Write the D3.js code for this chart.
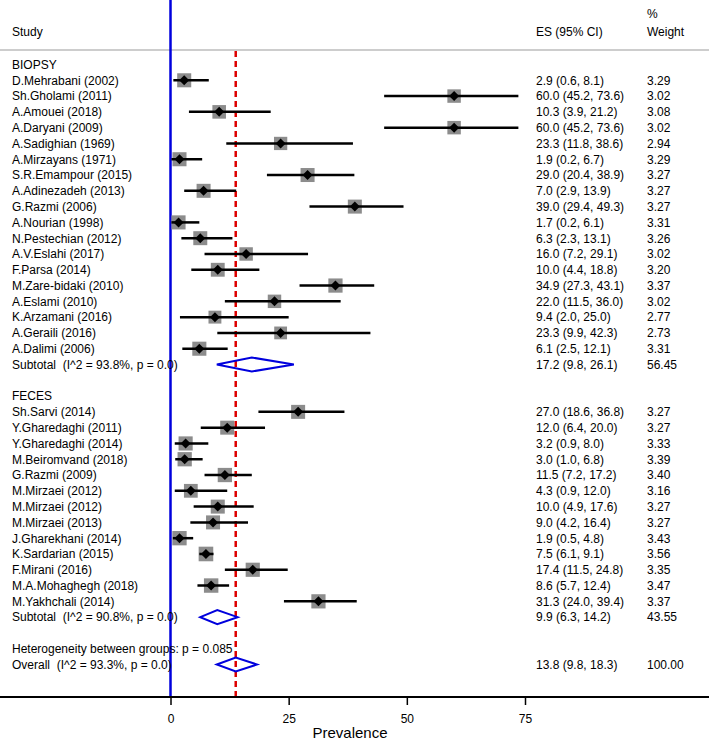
<!DOCTYPE html>
<html><head><meta charset="utf-8">
<script src="https://cdn.jsdelivr.net/npm/d3@7/dist/d3.min.js"></script>
<style>body{margin:0;background:#fff}svg{display:block;font-family:"Liberation Sans",Arial,sans-serif}text{white-space:pre}</style>
</head><body><svg id="c" width="709" height="741"></svg>
<script>
// ---- data ----
const biopsyStudies = ["D.Mehrabani (2002)","Sh.Gholami (2011)","A.Amouei (2018)","A.Daryani (2009)","A.Sadighian (1969)","A.Mirzayans (1971)","S.R.Emampour (2015)","A.Adinezadeh (2013)","G.Razmi (2006)","A.Nourian (1998)","N.Pestechian (2012)","A.V.Eslahi (2017)","F.Parsa (2014)","M.Zare-bidaki (2010)","A.Eslami (2010)","K.Arzamani (2016)","A.Geraili (2016)","A.Dalimi (2006)"];
const biopsyES =   [2.9,60.0,10.3,60.0,23.3,1.9,29.0,7.0,39.0,1.7,6.3,16.0,10.0,34.9,22.0,9.4,23.3,6.1];
const biopsyLow =  [0.6,45.2,3.9,45.2,11.8,0.2,20.4,2.9,29.4,0.2,2.3,7.2,4.4,27.3,11.5,2.0,9.9,2.5];
const biopsyHigh = [8.1,73.6,21.2,73.6,38.6,6.7,38.9,13.9,49.3,6.1,13.1,29.1,18.8,43.1,36.0,25.0,42.3,12.1];
const biopsyW =    [3.29,3.02,3.08,3.02,2.94,3.29,3.27,3.27,3.27,3.31,3.26,3.02,3.20,3.37,3.02,2.77,2.73,3.31];
const biopsySub = {label:"Subtotal  (I^2 = 93.8%, p = 0.0)", es:17.2, lo:9.8, hi:26.1, w:"56.45"};

const fecesStudies = ["Sh.Sarvi (2014)","Y.Gharedaghi (2011)","Y.Gharedaghi (2014)","M.Beiromvand (2018)","G.Razmi (2009)","M.Mirzaei (2012)","M.Mirzaei (2012)","M.Mirzaei (2013)","J.Gharekhani (2014)","K.Sardarian (2015)","F.Mirani (2016)","M.A.Mohaghegh (2018)","M.Yakhchali (2014)"];
const fecesES =   [27.0,12.0,3.2,3.0,11.5,4.3,10.0,9.0,1.9,7.5,17.4,8.6,31.3];
const fecesLow =  [18.6,6.4,0.9,1.0,7.2,0.9,4.9,4.2,0.5,6.1,11.5,5.7,24.0];
const fecesHigh = [36.8,20.0,8.0,6.8,17.2,12.0,17.6,16.4,4.8,9.1,24.8,12.4,39.4];
const fecesW =    [3.27,3.27,3.33,3.39,3.40,3.16,3.27,3.27,3.43,3.56,3.35,3.47,3.37];
const fecesSub = {label:"Subtotal  (I^2 = 90.8%, p = 0.0)", es:9.9, lo:6.3, hi:14.2, w:"43.55"};

const overall = {label:"Overall  (I^2 = 93.3%, p = 0.0)", es:13.8, lo:9.8, hi:18.3, w:"100.00"};
const hetText = "Heterogeneity between groups: p = 0.085";
const xTicks = [0,25,50,75];

// ---- build rows ----
const rows = [];
rows.push({type:"group", label:"BIOPSY"});
biopsyStudies.forEach((s,i)=>rows.push({type:"study",label:s,es:biopsyES[i],lo:biopsyLow[i],hi:biopsyHigh[i],w:biopsyW[i]}));
rows.push(Object.assign({type:"sum"}, biopsySub));
rows.push({type:"blank"});
rows.push({type:"group", label:"FECES"});
fecesStudies.forEach((s,i)=>rows.push({type:"study",label:s,es:fecesES[i],lo:fecesLow[i],hi:fecesHigh[i],w:fecesW[i]}));
rows.push(Object.assign({type:"sum"}, fecesSub));
rows.push({type:"blank"});
rows.push({type:"group", label:hetText});
rows.push(Object.assign({type:"sum"}, overall));

const svg = d3.select("#c");
const x = d3.scaleLinear().domain([0,75]).range([170.5,525]);
const y = d3.scaleLinear().domain([0, rows.length-1]).range([64.5, 664.5]);
const axisY = 697;
const fs = 12;

// header
svg.append("line").attr("x1",0).attr("x2",709).attr("y1",50).attr("y2",50).attr("stroke","#bdbdbd").attr("stroke-width",1.5);
svg.append("text").attr("x",12).attr("y",36).attr("font-size",fs).text("Study");
svg.append("text").attr("x",536).attr("y",36).attr("font-size",fs).text("ES (95% CI)");
svg.append("text").attr("x",647).attr("y",18).attr("font-size",fs).text("%");
svg.append("text").attr("x",647).attr("y",36).attr("font-size",fs).text("Weight");

// null line (blue) and overall line (red dashed)
svg.append("line").attr("x1",x(0)).attr("x2",x(0)).attr("y1",0).attr("y2",axisY).attr("stroke","#0000dd").attr("stroke-width",2.5);
svg.append("line").attr("x1",x(overall.es)).attr("x2",x(overall.es)).attr("y1",51).attr("y2",axisY)
  .attr("stroke","#dd0000").attr("stroke-width",2.5).attr("stroke-dasharray","6,4");

// labels
const g = svg.append("g");
rows.forEach((r,i)=>{
  if(r.type==="blank") return;
  const yy = y(i);
  g.append("text").attr("x",12).attr("y",yy).attr("dy","0.36em").attr("font-size",fs).attr("fill","#000").text(r.label);
  if(r.es!==undefined){
    g.append("text").attr("x",536).attr("y",yy).attr("dy","0.36em").attr("font-size",fs)
      .text(`${r.es.toFixed(1)} (${r.lo.toFixed(1)}, ${r.hi.toFixed(1)})`);
    g.append("text").attr("x",647).attr("y",yy).attr("dy","0.36em").attr("font-size",fs)
      .text(typeof r.w==="number"? r.w.toFixed(2) : r.w);
  }
});

// study marks
const sideScale = d3.scaleSqrt().domain([0,3.27]).range([0,14]);
rows.forEach((r,i)=>{
  const yy = y(i);
  if(r.type==="study"){
    const s = sideScale(r.w);
    g.append("rect").attr("x",x(r.es)-s/2).attr("y",yy-s/2).attr("width",s).attr("height",s).attr("fill","#8c8c8c");
    g.append("line").attr("x1",x(r.lo)).attr("x2",x(r.hi)).attr("y1",yy).attr("y2",yy).attr("stroke","#000").attr("stroke-width",2.5);
    const d=5;
    g.append("path").attr("d",`M${x(r.es)-d},${yy}L${x(r.es)},${yy-d}L${x(r.es)+d},${yy}L${x(r.es)},${yy+d}Z`).attr("fill","#000");
  } else if(r.type==="sum"){
    const h=7;
    g.append("path").attr("d",`M${x(r.lo)},${yy}L${x(r.es)},${yy-h}L${x(r.hi)},${yy}L${x(r.es)},${yy+h}Z`)
      .attr("fill","none").attr("stroke","#0000dd").attr("stroke-width",2);
  }
});

// axis
svg.append("line").attr("x1",0).attr("x2",709).attr("y1",axisY).attr("y2",axisY).attr("stroke","#000").attr("stroke-width",2);
const ax = svg.append("g").attr("transform",`translate(0,${axisY})`)
  .call(d3.axisBottom(x).tickValues(xTicks).tickSize(8).tickPadding(9).tickFormat(d3.format("d")));
ax.select(".domain").remove();
ax.selectAll(".tick line").attr("stroke","#000").attr("stroke-width",1.5);
ax.selectAll(".tick text").attr("font-size",fs).attr("font-family","Liberation Sans, Arial, sans-serif").attr("fill","#000");
svg.append("text").attr("x",350).attr("y",738).attr("text-anchor","middle").attr("font-size",15).text("Prevalence");
</script></body></html>
